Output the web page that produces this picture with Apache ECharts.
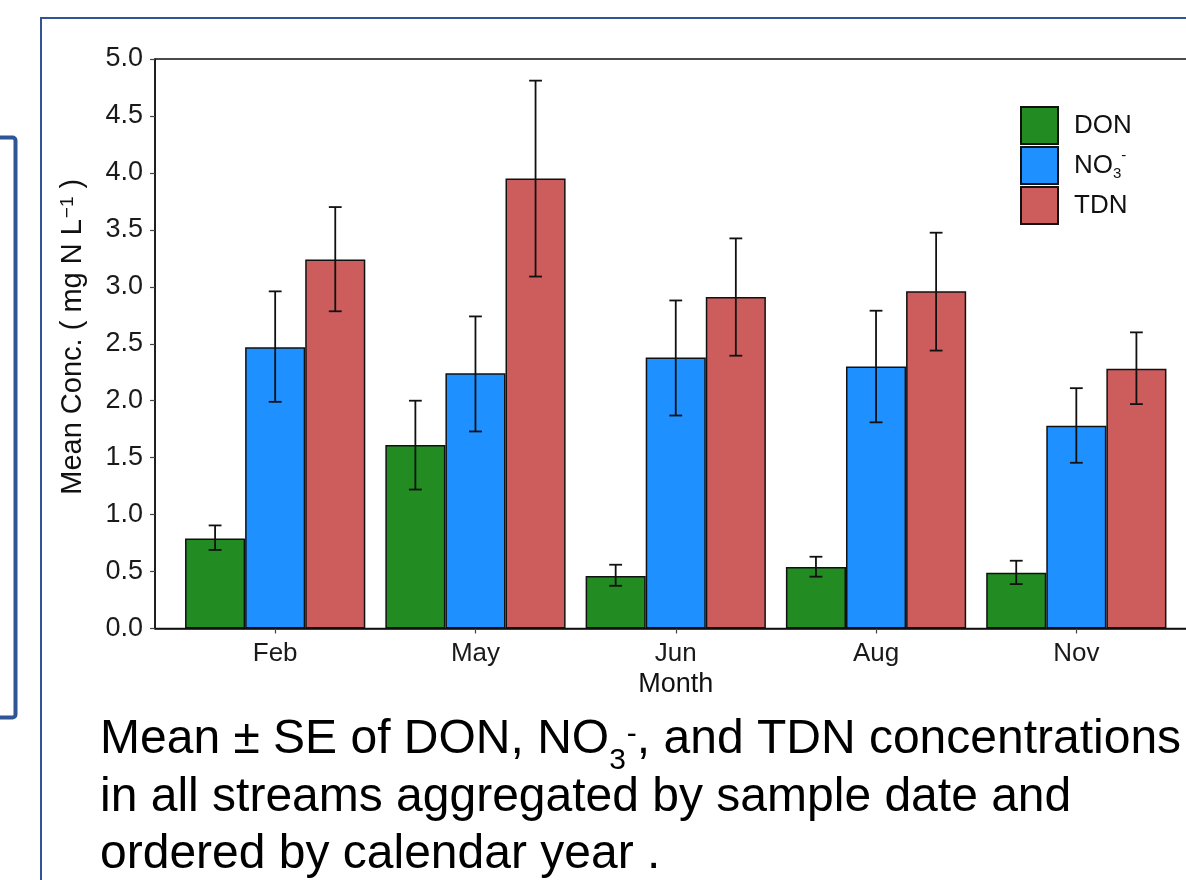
<!DOCTYPE html>
<html>
<head>
<meta charset="utf-8">
<script src="https://cdn.jsdelivr.net/npm/echarts@6/dist/echarts.min.js"></script>
<style>
  html, body { margin: 0; padding: 0; background: #fff; }
  #chart { width: 1186px; height: 880px; }
</style>
</head>
<body>
<div id="chart"></div>
<script>
// month positions on the discrete axis (1..5) and their labels
const months = ["Feb", "May", "Jun", "Aug", "Nov"];
const monthPos = [1, 2, 3, 4, 5];

// mean concentrations (mg N / L)
const donMean = [0.79, 1.61, 0.46, 0.54, 0.49];
const no3Mean = [2.47, 2.24, 2.38, 2.30, 1.78];
const tdnMean = [3.24, 3.95, 2.91, 2.96, 2.28];

// mean - SE / mean + SE
const donLo = [0.69, 1.22, 0.375, 0.455, 0.39];
const donHi = [0.905, 2.00, 0.56, 0.63, 0.595];
const no3Lo = [1.99, 1.73, 1.87, 1.81, 1.455];
const no3Hi = [2.96, 2.74, 2.88, 2.79, 2.11];
const tdnLo = [2.785, 3.09, 2.395, 2.44, 1.97];
const tdnHi = [3.70, 4.81, 3.425, 3.475, 2.60];

const yTicks = [0, 0.5, 1, 1.5, 2, 2.5, 3, 3.5, 4, 4.5, 5];

const FONT = "Liberation Sans, Arial, sans-serif";
const colors = { DON: "#228B22", NO3: "#1E90FF", TDN: "#CD5C5C" };

const chart = echarts.init(document.getElementById("chart"), null, { renderer: "canvas" });

function barSeries(name, color, vals) {
  return {
    name: name,
    type: "bar",
    barGap: 0,
    barCategoryGap: "10%",
    data: vals.map((v, i) => [monthPos[i], v]),
    itemStyle: { color: color, borderColor: "#111", borderWidth: 1.5 },
    emphasis: { disabled: true },
    z: 2
  };
}

// error bars: [x, lo, hi, dodge index]
const errData = [];
[[donLo, donHi], [no3Lo, no3Hi], [tdnLo, tdnHi]].forEach((pair, k) => {
  monthPos.forEach((x, i) => errData.push([x, pair[0][i], pair[1][i], k]));
});

chart.setOption({
  animation: false,
  textStyle: { fontFamily: FONT },
  grid: {
    left: 155, right: -10.5, top: 59, bottom: 251.5,
    show: true, borderColor: "#111", borderWidth: 1.5,
    containLabel: false,
    outerBoundsMode: "none"
  },
  legend: {
    orient: "vertical",
    left: 1020, top: 106,
    padding: 0,
    itemWidth: 37, itemHeight: 37, itemGap: 1,
    icon: "rect",
    selectedMode: false,
    data: ["DON", "NO3", "TDN"],
    formatter: (n) => n === "NO3" ? "NO{sub|3}{sup|-}" : n,
    textStyle: {
      fontSize: 26, lineHeight: 24, color: "#111", fontFamily: FONT, padding: [0, 0, 0, 11],
      rich: {
        sub: { fontSize: 15, lineHeight: 15, verticalAlign: "middle", padding: [8, 0, -8, 0] },
        sup: { fontSize: 15, lineHeight: 15, verticalAlign: "middle", padding: [-9.5, 0, 9.5, 0] }
      }
    }
  },
  xAxis: {
    type: "value",
    min: 0.4, max: 5.6,
    name: "Month",
    nameLocation: "middle",
    nameGap: 41,
    nameTextStyle: { fontSize: 27, color: "#111", fontFamily: FONT },
    axisLine: { show: true, lineStyle: { color: "#111", width: 1.5 } },
    axisTick: { show: true, length: 5, customValues: monthPos, lineStyle: { color: "#444", width: 1.2 } },
    axisLabel: {
      customValues: monthPos, margin: 12,
      fontSize: 26, color: "#1a1a1a", fontFamily: FONT,
      formatter: (v) => months[Math.round(v) - 1]
    },
    splitLine: { show: false }
  },
  yAxis: {
    type: "value",
    min: 0, max: 5, interval: 0.5,
    name: "Mean Conc. ( mg N L{sup|\u22121} )",
    nameLocation: "middle",
    nameGap: 66,
    nameRotate: 90,
    nameTextStyle: {
      fontSize: 29, lineHeight: 32, color: "#111", fontFamily: FONT, padding: [0, 0, 0, 14],
      rich: { sup: { fontSize: 19, lineHeight: 19, verticalAlign: "middle", padding: [-5.4, 0, 5.4, 1] } }
    },
    axisLine: { show: true, lineStyle: { color: "#111", width: 1.5 } },
    axisTick: { show: true, length: 5, lineStyle: { color: "#444", width: 1.2 } },
    axisLabel: {
      margin: 12, fontSize: 27, color: "#1a1a1a", fontFamily: FONT,
      formatter: (v) => v.toFixed(1),
      customValues: yTicks
    },
    splitLine: { show: false }
  },
  series: [
    barSeries("DON", colors.DON, donMean),
    barSeries("NO3", colors.NO3, no3Mean),
    barSeries("TDN", colors.TDN, tdnMean),
    {
      type: "custom",
      name: "SE",
      data: errData,
      z: 5,
      silent: true,
      encode: { x: 0, y: [1, 2] },
      renderItem: (params, api) => {
        const x = api.value(0), lo = api.value(1), hi = api.value(2), k = api.value(3);
        const unit = api.size([1, 0])[0];
        const off = (k - 1) * 0.3 * unit;
        const pLo = api.coord([x, lo]);
        const pHi = api.coord([x, hi]);
        const cx = pLo[0] + off;
        const hw = 0.032 * unit;
        const style = { stroke: "#111", lineWidth: 1.8 };
        return {
          type: "group",
          children: [
            { type: "line", shape: { x1: cx, y1: pLo[1], x2: cx, y2: pHi[1] }, style },
            { type: "line", shape: { x1: cx - hw, y1: pLo[1], x2: cx + hw, y2: pLo[1] }, style },
            { type: "line", shape: { x1: cx - hw, y1: pHi[1], x2: cx + hw, y2: pHi[1] }, style }
          ]
        };
      }
    }
  ],
  graphic: [
    {
      type: "rect", z: -1, silent: true,
      shape: { x: 41, y: 18, width: 1300, height: 1000 },
      style: { fill: null, stroke: "#2F5597", lineWidth: 2 }
    },
    {
      type: "rect", z: -1, silent: true,
      shape: { x: -30, y: 137.5, width: 45.5, height: 580, r: 3 },
      style: { fill: null, stroke: "#2F5597", lineWidth: 4 }
    },
    {
      type: "text", left: 100, top: 711.5,
      style: {
        text: "Mean \u00B1 SE of DON, NO{sub|3}{sup|-}, and TDN concentrations\nin all streams aggregated by sample date and\nordered by calendar year .",
        font: "48px " + FONT,
        fill: "#000",
        lineHeight: 57.5,
        rich: {
          sub: { font: "30px " + FONT, lineHeight: 30, verticalAlign: "middle", padding: [20, 0, -20, 0] },
          sup: { font: "30px " + FONT, lineHeight: 30, verticalAlign: "middle", padding: [-6, 0, 6, 1] }
        }
      }
    }
  ]
});
</script>
</body>
</html>
